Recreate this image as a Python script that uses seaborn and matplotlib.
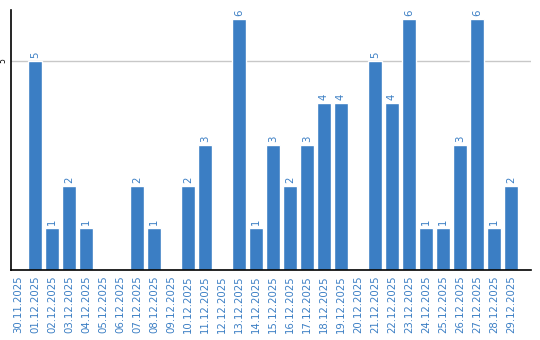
import matplotlib
matplotlib.use("Agg")
import matplotlib.pyplot as plt
import seaborn as sns
import pandas as pd

dates = ["30.11.2025", "01.12.2025", "02.12.2025", "03.12.2025", "04.12.2025",
         "05.12.2025", "06.12.2025", "07.12.2025", "08.12.2025", "09.12.2025",
         "10.12.2025", "11.12.2025", "12.12.2025", "13.12.2025", "14.12.2025",
         "15.12.2025", "16.12.2025", "17.12.2025", "18.12.2025", "19.12.2025",
         "20.12.2025", "21.12.2025", "22.12.2025", "23.12.2025", "24.12.2025",
         "25.12.2025", "26.12.2025", "27.12.2025", "28.12.2025", "29.12.2025"]
values = [0, 5, 1, 2, 1, 0, 0, 2, 1, 0, 2, 3, 0, 6, 1, 3, 2, 3, 4, 4,
          0, 5, 4, 6, 1, 1, 3, 6, 1, 2]

sns.set_style("white")
plt.rcParams['font.family'] = ['DejaVu Sans']

BLUE = "#3b7ec4"
df = pd.DataFrame({"date": dates, "value": values})

fig = plt.figure(figsize=(5.4, 3.4), dpi=100)
ax = fig.add_axes([11/540, 1 - 270/340, 520/540, 260/340])
sns.barplot(data=df, x="date", y="value", color=BLUE, width=0.82,
            saturation=1, ax=ax, zorder=3)

ax.set_xlim(-0.41, 30.18)
ax.set_ylim(0, 6.22)
ax.set_yticks([5])
ax.set_yticklabels(["5"], rotation=90, va="center", fontsize=5.5, color="black")
ax.tick_params(axis="y", length=0, pad=2.5)
ax.tick_params(axis="x", length=0, pad=4)
ax.set_xticks(range(len(dates)))
ax.set_xticklabels(dates, rotation=90, fontsize=7.3, color=BLUE)
ax.yaxis.grid(True, color="#c8c8c8", linewidth=1, zorder=0)
ax.xaxis.grid(False)
ax.set_xlabel("")
ax.set_ylabel("")
for s in ["top", "right"]:
    ax.spines[s].set_visible(False)
for s in ["left", "bottom"]:
    ax.spines[s].set_color("black")
    ax.spines[s].set_linewidth(1.2)
    ax.spines[s].set_zorder(5)

for i, v in enumerate(values):
    if v > 0:
        ax.text(i, v + 0.07, str(v), rotation=90, ha="center", va="bottom",
                fontsize=7.3, color=BLUE)

fig.savefig("out.png", dpi=100)
